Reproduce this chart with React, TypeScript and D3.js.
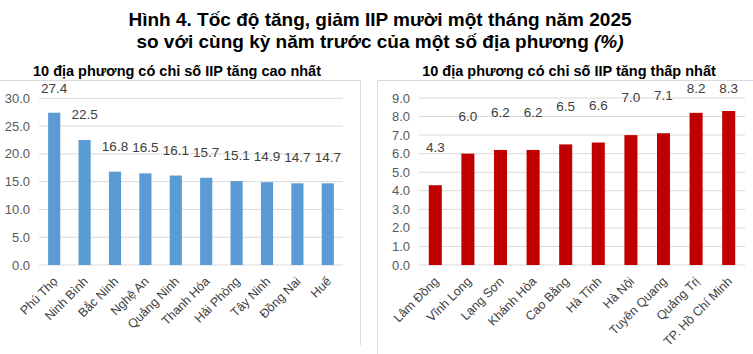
import React from "react";
import * as d3 from "d3";

const topNames = ["Phú Thọ", "Ninh Bình", "Bắc Ninh", "Nghệ An", "Quảng Ninh", "Thanh Hóa", "Hải Phòng", "Tây Ninh", "Đồng Nai", "Huế"];
const topValues = [27.4, 22.5, 16.8, 16.5, 16.1, 15.7, 15.1, 14.9, 14.7, 14.7];
const topTicks = [0, 5, 10, 15, 20, 25, 30];

const lowNames = ["Lâm Đồng", "Vĩnh Long", "Lạng Sơn", "Khánh Hòa", "Cao Bằng", "Hà Tĩnh", "Hà Nội", "Tuyên Quang", "Quảng Trị", "TP. Hồ Chí Minh"];
const lowValues = [4.3, 6.0, 6.2, 6.2, 6.5, 6.6, 7.0, 7.1, 8.2, 8.3];
const lowTicks = [0, 1, 2, 3, 4, 5, 6, 7, 8, 9];

const titleLine1 = "Hình 4. Tốc độ tăng, giảm IIP mười một tháng năm 2025";
const titleLine2 = "so với cùng kỳ năm trước của một số địa phương ";
const titleUnit = "(%)";
const subTop = "10 địa phương có chỉ số IIP tăng cao nhất";
const subLow = "10 địa phương có chỉ số IIP tăng thấp nhất";

const FONT = "Arial, 'Liberation Sans', sans-serif";

type PanelProps = {
  names: string[];
  values: number[];
  ticks: number[];
  x0: number;
  x1: number;
  yBottom: number;
  yTop: number;
  max: number;
  color: string;
  tickRight: number;
  labelLift: number;
};

function Panel(p: PanelProps) {
  const x = d3.scaleBand<string>().domain(p.names).range([p.x0, p.x1]).paddingInner(0.6).paddingOuter(0.3);
  const y = d3.scaleLinear().domain([0, p.max]).range([p.yBottom, p.yTop]);
  const fmt = d3.format(".1f");
  return (
    <g>
      {p.ticks.map((t) => (
        <g key={t}>
          <line x1={p.x0} x2={p.x1} y1={y(t)} y2={y(t)} stroke="#d9d9d9" strokeWidth={1} />
          <text x={p.tickRight} y={y(t)} dy="0.35em" textAnchor="end" fontSize={13} fill="#595959" fontFamily={FONT}>
            {fmt(t)}
          </text>
        </g>
      ))}
      {p.names.map((n, i) => {
        const cx = (x(n) as number) + x.bandwidth() / 2;
        const top = y(p.values[i]);
        const ly = Math.max(top - p.labelLift, 93);
        return (
          <g key={n}>
            <rect x={x(n)} y={top} width={x.bandwidth()} height={p.yBottom - top} fill={p.color} />
            <text x={cx} y={ly} textAnchor="middle" fontSize={13.5} fill="#404040" fontFamily={FONT}>
              {fmt(p.values[i])}
            </text>
            <text
              transform={`translate(${cx - 2},${p.yBottom + 11}) rotate(-45)`}
              textAnchor="end"
              dy="0.7em"
              fontSize={12.5}
              fill="#404040"
              fontFamily={FONT}
            >
              {n}
            </text>
          </g>
        );
      })}
    </g>
  );
}

export default function App() {
  return (
    <svg width={753} height={354} style={{ position: "absolute", left: 0, top: 0, background: "#fff" }}>
      <rect width={753} height={354} fill="#fff" />
      <text x={380} y={26} textAnchor="middle" fontSize={19} fontWeight="bold" fill="#000" fontFamily="'Liberation Sans Narrow', 'Arial Narrow', Arial, sans-serif">
        {titleLine1}
      </text>
      <text x={380} y={48} textAnchor="middle" fontSize={19} fontWeight="bold" fill="#000" fontFamily="'Liberation Sans Narrow', 'Arial Narrow', Arial, sans-serif">
        {titleLine2}
        <tspan fontStyle="italic">{titleUnit}</tspan>
      </text>

      {/* panel frames */}
      <line x1={0} x2={360.5} y1={80.5} y2={80.5} stroke="#d9d9d9" />
      <line x1={360.5} x2={360.5} y1={80.5} y2={345} stroke="#d9d9d9" />
      <line x1={377.5} x2={753} y1={80.5} y2={80.5} stroke="#d9d9d9" />
      <line x1={377.5} x2={377.5} y1={80.5} y2={354} stroke="#d9d9d9" />

      <text x={177} y={76} textAnchor="middle" fontSize={14.5} fontWeight="bold" fill="#000" fontFamily={FONT}>
        {subTop}
      </text>
      <text x={569} y={76} textAnchor="middle" fontSize={14.5} fontWeight="bold" fill="#000" fontFamily={FONT}>
        {subLow}
      </text>

      <Panel names={topNames} values={topValues} ticks={topTicks} x0={39} x1={343} yBottom={265} yTop={98.3} max={30} color="#5b9bd5" tickRight={30} labelLift={21} />
      <Panel names={lowNames} values={lowValues} ticks={lowTicks} x0={419} x1={745} yBottom={265} yTop={98} max={9} color="#c00000" tickRight={410} labelLift={33} />
    </svg>
  );
}
